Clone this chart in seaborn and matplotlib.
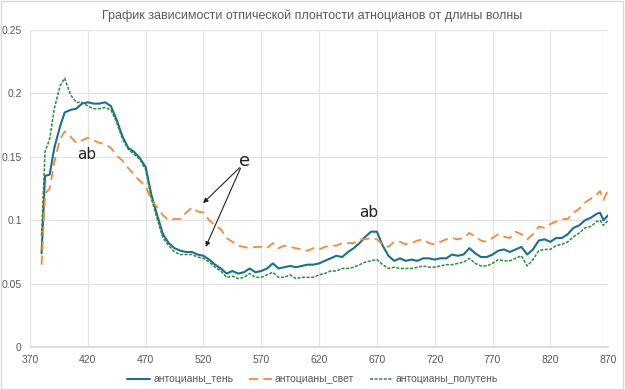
import matplotlib
matplotlib.use("Agg")
import matplotlib.pyplot as plt
import matplotlib.patches as mpatches
import pandas as pd
import seaborn as sns

# Wavelength grid (nm) and absorbance readings for each series
wavelength = [380, 383, 387, 391, 396, 400, 405, 410, 415, 420, 425, 430, 435, 440,
              445, 450, 455, 460, 465, 470, 475, 480, 485, 490, 495, 500, 505, 510,
              515, 520, 525, 530, 535, 540, 545, 550, 555, 560, 565, 570, 575, 580,
              585, 590, 595, 600, 605, 610, 615, 620, 625, 630, 635, 640, 645, 650,
              655, 660, 665, 670, 675, 680, 685, 690, 695, 700, 705, 710, 715, 720,
              725, 730, 735, 740, 745, 750, 755, 760, 765, 770, 775, 780, 785, 790,
              795, 800, 805, 810, 815, 820, 825, 830, 835, 840, 845, 850, 855, 860,
              863, 866, 870]

shade = [0.074, 0.135, 0.136, 0.157, 0.174, 0.185, 0.187, 0.188, 0.192, 0.193, 0.192,
         0.192, 0.193, 0.190, 0.179, 0.166, 0.157, 0.154, 0.149, 0.142, 0.120, 0.104,
         0.089, 0.082, 0.078, 0.076, 0.075, 0.075, 0.073, 0.072, 0.069, 0.065, 0.062,
         0.058, 0.060, 0.058, 0.059, 0.062, 0.059, 0.060, 0.062, 0.066, 0.062, 0.063,
         0.064, 0.063, 0.064, 0.065, 0.065, 0.066, 0.068, 0.070, 0.072, 0.071, 0.075,
         0.078, 0.082, 0.087, 0.091, 0.091, 0.080, 0.072, 0.068, 0.070, 0.068, 0.069,
         0.068, 0.070, 0.070, 0.069, 0.070, 0.070, 0.073, 0.072, 0.073, 0.078, 0.074,
         0.071, 0.071, 0.073, 0.076, 0.077, 0.075, 0.077, 0.079, 0.073, 0.077, 0.084,
         0.085, 0.083, 0.086, 0.086, 0.089, 0.094, 0.096, 0.100, 0.102, 0.105, 0.106,
         0.100, 0.104]

light = [0.065, 0.121, 0.125, 0.146, 0.164, 0.170, 0.166, 0.161, 0.163, 0.165, 0.163,
         0.161, 0.160, 0.157, 0.151, 0.147, 0.141, 0.136, 0.131, 0.127, 0.116, 0.110,
         0.104, 0.100, 0.101, 0.101, 0.106, 0.110, 0.107, 0.106, 0.100, 0.096, 0.093,
         0.086, 0.083, 0.080, 0.079, 0.078, 0.079, 0.079, 0.078, 0.082, 0.078, 0.080,
         0.079, 0.078, 0.077, 0.076, 0.078, 0.077, 0.079, 0.080, 0.080, 0.082, 0.082,
         0.082, 0.085, 0.085, 0.086, 0.085, 0.081, 0.079, 0.083, 0.083, 0.081, 0.082,
         0.084, 0.085, 0.082, 0.081, 0.083, 0.085, 0.086, 0.085, 0.086, 0.090, 0.087,
         0.084, 0.083, 0.086, 0.089, 0.087, 0.086, 0.091, 0.089, 0.085, 0.089, 0.095,
         0.094, 0.097, 0.099, 0.101, 0.101, 0.106, 0.109, 0.114, 0.117, 0.120, 0.123,
         0.116, 0.124]

half_shade = [0.088, 0.154, 0.164, 0.188, 0.206, 0.212, 0.199, 0.193, 0.193, 0.190, 0.188,
              0.188, 0.189, 0.187, 0.177, 0.164, 0.156, 0.152, 0.148, 0.140, 0.117, 0.101,
              0.086, 0.080, 0.075, 0.073, 0.073, 0.073, 0.071, 0.070, 0.067, 0.063, 0.060,
              0.055, 0.056, 0.054, 0.055, 0.058, 0.055, 0.055, 0.057, 0.059, 0.055, 0.055,
              0.057, 0.054, 0.055, 0.055, 0.055, 0.057, 0.058, 0.060, 0.060, 0.062, 0.062,
              0.063, 0.065, 0.067, 0.068, 0.069, 0.065, 0.062, 0.063, 0.062, 0.062, 0.062,
              0.063, 0.064, 0.063, 0.063, 0.064, 0.065, 0.065, 0.066, 0.067, 0.070, 0.066,
              0.064, 0.064, 0.066, 0.069, 0.068, 0.068, 0.070, 0.072, 0.064, 0.069, 0.076,
              0.077, 0.077, 0.080, 0.081, 0.083, 0.087, 0.090, 0.094, 0.095, 0.099, 0.100,
              0.096, 0.100]

series_names = ["антоцианы_тень", "антоцианы_свет", "антоцианы_полутень"]
x_ticks = [370, 420, 470, 520, 570, 620, 670, 720, 770, 820, 870]
y_ticks = [0, 0.05, 0.1, 0.15, 0.2, 0.25]
y_tick_labels = ["0", "0.05", "0.1", "0.15", "0.2", "0.25"]

colors = {series_names[0]: "#1b6f91", series_names[1]: "#f7883a", series_names[2]: "#2a8a3c"}
dashes = {series_names[0]: None, series_names[1]: (5, 3), series_names[2]: (2, 1)}
widths = {series_names[0]: 1.5, series_names[1]: 1.3, series_names[2]: 1.1}

sns.set_theme(style="whitegrid")
plt.rcParams["font.family"] = ["Liberation Sans Narrow", "Liberation Sans", "DejaVu Sans"]

df = pd.DataFrame({"wavelength": wavelength * 3,
                   "value": shade + light + half_shade,
                   "series": sum([[n] * len(wavelength) for n in series_names], [])})

fig = plt.figure(figsize=(6.25, 3.9), dpi=100)
ax = fig.add_axes([0.048, 0.110, 0.925, 0.813])

for name in series_names:
    sns.lineplot(data=df[df["series"] == name], x="wavelength", y="value",
                 color=colors[name], linewidth=widths[name], ax=ax, label=name)
    if dashes[name]:
        ax.lines[-1].set_dashes(dashes[name])

# Aesthetics
ax.set_xlim(370, 870)
ax.set_ylim(0, 0.25)
ax.set_xticks(x_ticks)
ax.set_yticks(y_ticks)
ax.set_yticklabels(y_tick_labels)
ax.set(xlabel="", ylabel="")
ax.grid(True, color="#e3e3e3", linewidth=0.9)
for side in ["left", "right", "top"]:
    ax.spines[side].set_visible(False)
ax.spines["bottom"].set_color("#d9d9d9")
ax.tick_params(axis="both", labelsize=7.5, colors="#595959", length=0, pad=6)

fig.suptitle("График зависимости отпической плонтости атноцианов от длины волны",
             y=0.975, fontsize=9, color="#595959")

handles, labels = ax.get_legend_handles_labels()
ax.get_legend().remove()
fig.legend(handles, labels, loc="center", bbox_to_anchor=(0.5, 0.027), ncol=3,
           frameon=False, fontsize=7.5, labelcolor="#595959", handlelength=2.2,
           handletextpad=0.3, columnspacing=1.5)

# Annotations
ax.text(419, 0.152, "ab", fontsize=11, ha="center", va="center", color="#222222",
        family="DejaVu Sans")
ax.text(663, 0.106, "ab", fontsize=11, ha="center", va="center", color="#222222",
        family="DejaVu Sans")
ax.text(556, 0.147, "e", fontsize=13, ha="center", va="center", color="#222222",
        family="DejaVu Sans")
for tip in [(518, 0.112), (521, 0.077)]:
    ax.annotate("", xy=tip, xytext=(553, 0.143),
                arrowprops=dict(arrowstyle="-|>", color="#222222", lw=0.8,
                                mutation_scale=7))

fig.patches.append(mpatches.Rectangle((0.002, 0.003), 0.995, 0.994, transform=fig.transFigure,
                                      fill=False, edgecolor="#d9d9d9", linewidth=1))

fig.savefig("out.png", dpi=100)
